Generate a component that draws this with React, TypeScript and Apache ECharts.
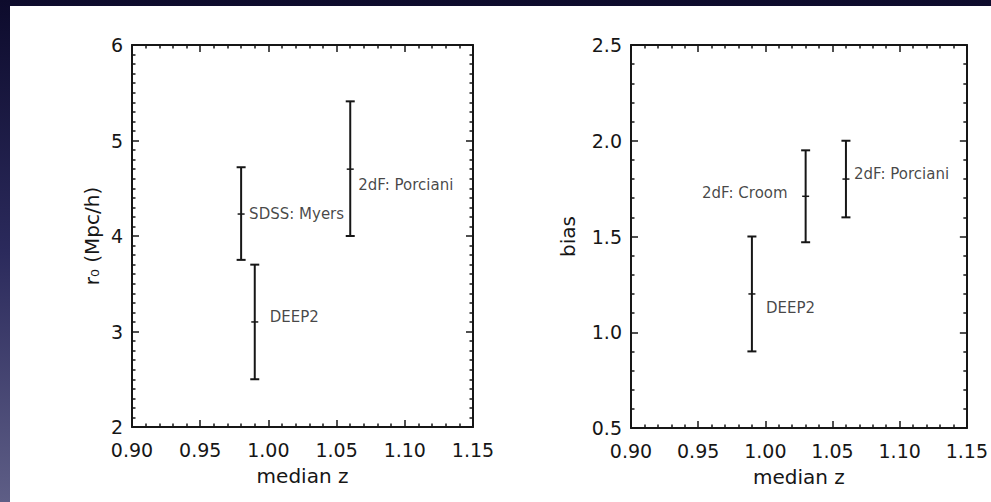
import React, { useEffect, useRef } from "react";
import * as echarts from "echarts";

// ---- data ----
// Left panel: correlation length r0 vs median z
const r0Names = ["SDSS: Myers", "2dF: Porciani", "DEEP2"];
const r0Z = [0.98, 1.06, 0.99];
const r0Val = [4.23, 4.7, 3.1];
const r0Low = [3.75, 4.0, 2.5];
const r0High = [4.72, 5.41, 3.7];

// Right panel: bias vs median z
const biasNames = ["DEEP2", "2dF: Croom", "2dF: Porciani"];
const biasZ = [0.99, 1.03, 1.06];
const biasVal = [1.2, 1.71, 1.8];
const biasLow = [0.9, 1.47, 1.6];
const biasHigh = [1.5, 1.95, 2.0];

// label placement (layout, not data)
const r0LabelPos = [
  { position: "right", offset: [3, 0] },
  { position: "right", offset: [3, 16] },
  { position: "right", offset: [10, -5] },
];
const biasLabelPos = [
  { position: "right", offset: [9, 14] },
  { position: "left", offset: [-13, -3] },
  { position: "right", offset: [3, -5] },
];

const INK = "#161616";
const FONT = "DejaVu Sans";

function errRender(params: any, api: any) {
  const x = api.value(0);
  const y = api.value(1);
  const lo = api.value(2);
  const hi = api.value(3);
  const c = api.coord([x, y]);
  const t = api.coord([x, hi]);
  const b = api.coord([x, lo]);
  const cap = 4.5;
  const st = { stroke: INK, lineWidth: 2 };
  return {
    type: "group",
    children: [
      { type: "line", shape: { x1: c[0], y1: t[1], x2: c[0], y2: b[1] }, style: st },
      { type: "line", shape: { x1: c[0] - cap, y1: t[1], x2: c[0] + cap, y2: t[1] }, style: st },
      { type: "line", shape: { x1: c[0] - cap, y1: b[1], x2: c[0] + cap, y2: b[1] }, style: st },
      { type: "line", shape: { x1: c[0] - 3.5, y1: c[1], x2: c[0] + 3.5, y2: c[1] }, style: { stroke: INK, lineWidth: 1.5 } },
    ],
  };
}

function xAxes(gridIndex: number) {
  const common = {
    type: "value",
    gridIndex,
    min: 0.9,
    max: 1.15,
    interval: 0.05,
    axisLine: { show: true, onZero: false, lineStyle: { color: INK, width: 2 } },
    axisTick: { show: true, inside: true, length: 7, lineStyle: { color: INK, width: 1.5 } },
    minorTick: { show: true, splitNumber: 5, length: 3.5, lineStyle: { color: INK, width: 1.5 } },
    splitLine: { show: false },
    minorSplitLine: { show: false },
  };
  return [
    {
      ...common,
      position: "bottom",
      name: "median z",
      nameLocation: "middle",
      nameGap: 39,
      nameTextStyle: { color: INK, fontSize: 20, fontFamily: FONT },
      axisLabel: {
        show: true,
        margin: 13,
        color: INK,
        fontSize: 19,
        fontFamily: FONT,
        formatter: (v: number) => v.toFixed(2),
      },
    },
    { ...common, position: "top", axisLabel: { show: false } },
  ];
}

function yAxes(gridIndex: number, min: number, max: number, interval: number, minorSplit: number, name: string, gap: number, digits: number) {
  const common = {
    type: "value",
    gridIndex,
    min,
    max,
    interval,
    axisLine: { show: true, onZero: false, lineStyle: { color: INK, width: 2 } },
    axisTick: { show: true, inside: true, length: 7, lineStyle: { color: INK, width: 1.5 } },
    minorTick: { show: true, splitNumber: minorSplit, length: 3.5, lineStyle: { color: INK, width: 1.5 } },
    splitLine: { show: false },
    minorSplitLine: { show: false },
  };
  return [
    {
      ...common,
      position: "left",
      name,
      nameLocation: "middle",
      nameGap: gap,
      nameRotate: 90,
      nameTextStyle: { color: INK, fontSize: 20, fontFamily: FONT },
      axisLabel: {
        show: true,
        margin: 9,
        color: INK,
        fontSize: 19,
        fontFamily: FONT,
        formatter: (v: number) => v.toFixed(digits),
      },
    },
    { ...common, position: "right", axisLabel: { show: false } },
  ];
}

export default function App() {
  const ref = useRef<HTMLDivElement>(null);

  useEffect(() => {
    if (!ref.current) return;
    const chart = echarts.init(ref.current, undefined, { renderer: "svg" });

    const r0Err = r0Z.map((z, i) => [z, r0Val[i], r0Low[i], r0High[i]]);
    const biasErr = biasZ.map((z, i) => [z, biasVal[i], biasLow[i], biasHigh[i]]);

    const labelStyle = { color: INK, fontSize: 15, fontFamily: FONT };

    const r0Labels = r0Z.map((z, i) => ({
      value: [z, r0Val[i]],
      name: r0Names[i],
      label: { show: true, formatter: r0Names[i], ...labelStyle, ...r0LabelPos[i] },
    }));
    const biasLabels = biasZ.map((z, i) => ({
      value: [z, biasVal[i]],
      name: biasNames[i],
      label: { show: true, formatter: biasNames[i], ...labelStyle, ...biasLabelPos[i] },
    }));

    chart.setOption({
      animation: false,
      backgroundColor: "transparent",
      grid: [
        { left: 132, top: 45, width: 341, height: 382 },
        { left: 631, top: 45, width: 341, height: 383 },
      ],
      xAxis: [...xAxes(0), ...xAxes(1)],
      yAxis: [
        ...yAxes(0, 2, 6, 1, 10, "r\u2080 (Mpc/h)", 30, 0),
        ...yAxes(1, 0.5, 2.5, 0.5, 5, "bias", 53, 1),
      ],
      series: [
        {
          type: "custom",
          xAxisIndex: 0,
          yAxisIndex: 0,
          renderItem: errRender,
          encode: { x: 0, y: [1, 2, 3] },
          data: r0Err,
          z: 3,
        },
        {
          type: "scatter",
          xAxisIndex: 0,
          yAxisIndex: 0,
          symbolSize: 0,
          data: r0Labels,
          z: 4,
        },
        {
          type: "custom",
          xAxisIndex: 2,
          yAxisIndex: 2,
          renderItem: errRender,
          encode: { x: 0, y: [1, 2, 3] },
          data: biasErr,
          z: 3,
        },
        {
          type: "scatter",
          xAxisIndex: 2,
          yAxisIndex: 2,
          symbolSize: 0,
          data: biasLabels,
          z: 4,
        },
      ],
    });

    return () => chart.dispose();
  }, []);

  return (
    <div
      style={{
        position: "fixed",
        left: 0,
        top: 0,
        width: 991,
        height: 502,
        background: "linear-gradient(to bottom, #0d0b2c 0%, #2b2a5c 50%, #5e5e86 100%)",
        overflow: "hidden",
      }}
    >
      <div
        style={{
          position: "absolute",
          left: 10,
          top: 6,
          right: 0,
          bottom: 0,
          background: "#ffffff",
        }}
      />
      <div ref={ref} style={{ position: "absolute", left: 0, top: 0, width: 991, height: 502 }} />
    </div>
  );
}
